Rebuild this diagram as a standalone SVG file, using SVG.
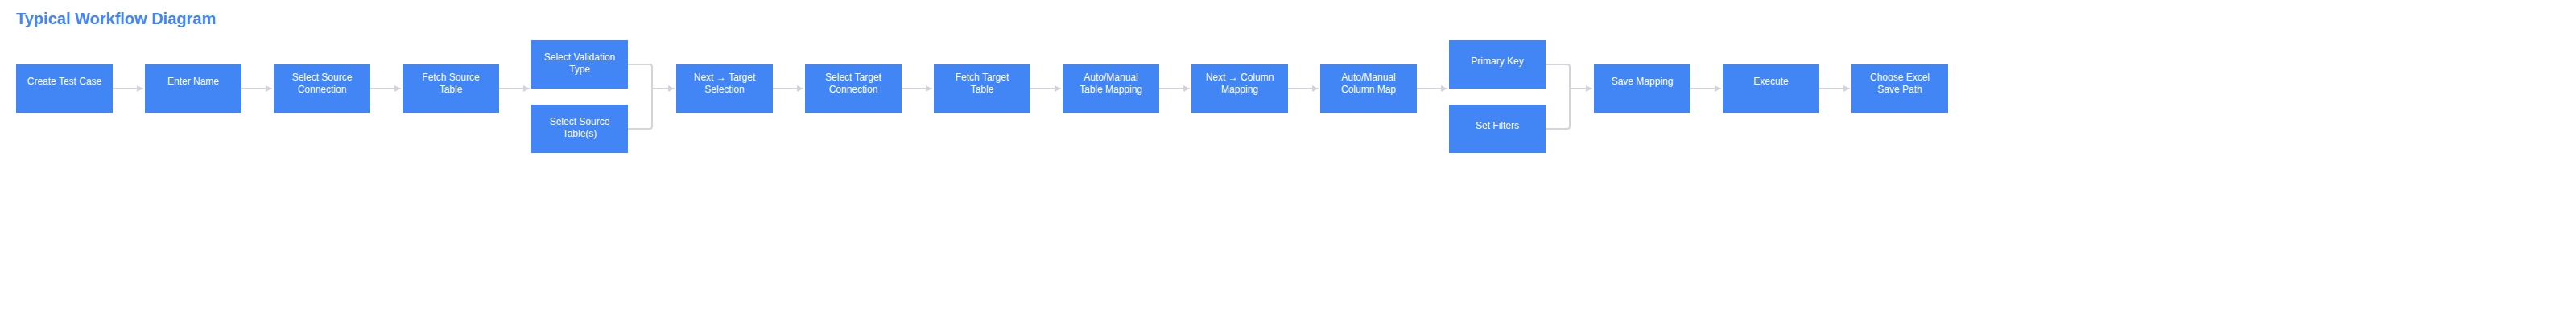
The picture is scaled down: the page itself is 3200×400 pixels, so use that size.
<svg xmlns="http://www.w3.org/2000/svg" width="3200" height="400" viewBox="0 0 3200 400">
<defs>
<style>
.title{font-family:"Liberation Sans",Arial,sans-serif;font-size:20px;font-weight:bold;fill:#4285f4}
.box{fill:#4285f4}
.lbl{font-family:"Liberation Sans",Arial,sans-serif;font-size:12px;fill:#ffffff;text-anchor:middle}
.edge{fill:none;stroke:#d1d5db;stroke-width:2}
</style>
<marker id="arr" markerUnits="userSpaceOnUse" markerWidth="8" markerHeight="8" refX="8" refY="4" orient="auto">
<path d="M0,0 L8,4 L0,8 z" fill="#d1d5db"/>
</marker>
</defs>
<rect width="3200" height="400" fill="#ffffff"/>
<text class="title" x="20" y="30">Typical Workflow Diagram</text>

<g id="connectors">
<path class="edge" d="M140,110 H178" marker-end="url(#arr)"/>
<path class="edge" d="M300,110 H338" marker-end="url(#arr)"/>
<path class="edge" d="M460,110 H498" marker-end="url(#arr)"/>
<path class="edge" d="M620,110 H658" marker-end="url(#arr)"/>
<path class="edge" d="M780,80 H807 Q810,80 810,83 V157 Q810,160 807,160 H780"/>
<path class="edge" d="M810,110 H838" marker-end="url(#arr)"/>
<path class="edge" d="M960,110 H998" marker-end="url(#arr)"/>
<path class="edge" d="M1120,110 H1158" marker-end="url(#arr)"/>
<path class="edge" d="M1280,110 H1318" marker-end="url(#arr)"/>
<path class="edge" d="M1440,110 H1478" marker-end="url(#arr)"/>
<path class="edge" d="M1600,110 H1638" marker-end="url(#arr)"/>
<path class="edge" d="M1760,110 H1798" marker-end="url(#arr)"/>
<path class="edge" d="M1920,80 H1947 Q1950,80 1950,83 V157 Q1950,160 1947,160 H1920"/>
<path class="edge" d="M1950,110 H1978" marker-end="url(#arr)"/>
<path class="edge" d="M2100,110 H2138" marker-end="url(#arr)"/>
<path class="edge" d="M2260,110 H2298" marker-end="url(#arr)"/>
</g>

<g id="n-create-test-case"><rect class="box" x="20" y="80" width="120" height="60"/><text class="lbl" x="80" y="105">Create Test Case</text></g>
<g id="n-enter-name"><rect class="box" x="180" y="80" width="120" height="60"/><text class="lbl" x="240" y="105">Enter Name</text></g>
<g id="n-select-source-connection"><rect class="box" x="340" y="80" width="120" height="60"/><text class="lbl" x="400" y="100">Select Source</text><text class="lbl" x="400" y="115">Connection</text></g>
<g id="n-fetch-source-table"><rect class="box" x="500" y="80" width="120" height="60"/><text class="lbl" x="560" y="100">Fetch Source</text><text class="lbl" x="560" y="115">Table</text></g>
<g id="n-select-validation-type"><rect class="box" x="660" y="50" width="120" height="60"/><text class="lbl" x="720" y="75">Select Validation</text><text class="lbl" x="720" y="90">Type</text></g>
<g id="n-select-source-tables"><rect class="box" x="660" y="130" width="120" height="60"/><text class="lbl" x="720" y="155">Select Source</text><text class="lbl" x="720" y="170">Table(s)</text></g>
<g id="n-next-target-selection"><rect class="box" x="840" y="80" width="120" height="60"/><text class="lbl" x="900" y="100">Next → Target</text><text class="lbl" x="900" y="115">Selection</text></g>
<g id="n-select-target-connection"><rect class="box" x="1000" y="80" width="120" height="60"/><text class="lbl" x="1060" y="100">Select Target</text><text class="lbl" x="1060" y="115">Connection</text></g>
<g id="n-fetch-target-table"><rect class="box" x="1160" y="80" width="120" height="60"/><text class="lbl" x="1220" y="100">Fetch Target</text><text class="lbl" x="1220" y="115">Table</text></g>
<g id="n-table-mapping"><rect class="box" x="1320" y="80" width="120" height="60"/><text class="lbl" x="1380" y="100">Auto/Manual</text><text class="lbl" x="1380" y="115">Table Mapping</text></g>
<g id="n-next-column-mapping"><rect class="box" x="1480" y="80" width="120" height="60"/><text class="lbl" x="1540" y="100">Next → Column</text><text class="lbl" x="1540" y="115">Mapping</text></g>
<g id="n-column-map"><rect class="box" x="1640" y="80" width="120" height="60"/><text class="lbl" x="1700" y="100">Auto/Manual</text><text class="lbl" x="1700" y="115">Column Map</text></g>
<g id="n-primary-key"><rect class="box" x="1800" y="50" width="120" height="60"/><text class="lbl" x="1860" y="80">Primary Key</text></g>
<g id="n-set-filters"><rect class="box" x="1800" y="130" width="120" height="60"/><text class="lbl" x="1860" y="160">Set Filters</text></g>
<g id="n-save-mapping"><rect class="box" x="1980" y="80" width="120" height="60"/><text class="lbl" x="2040" y="105">Save Mapping</text></g>
<g id="n-execute"><rect class="box" x="2140" y="80" width="120" height="60"/><text class="lbl" x="2200" y="105">Execute</text></g>
<g id="n-choose-excel"><rect class="box" x="2300" y="80" width="120" height="60"/><text class="lbl" x="2360" y="100">Choose Excel</text><text class="lbl" x="2360" y="115">Save Path</text></g>
</svg>
